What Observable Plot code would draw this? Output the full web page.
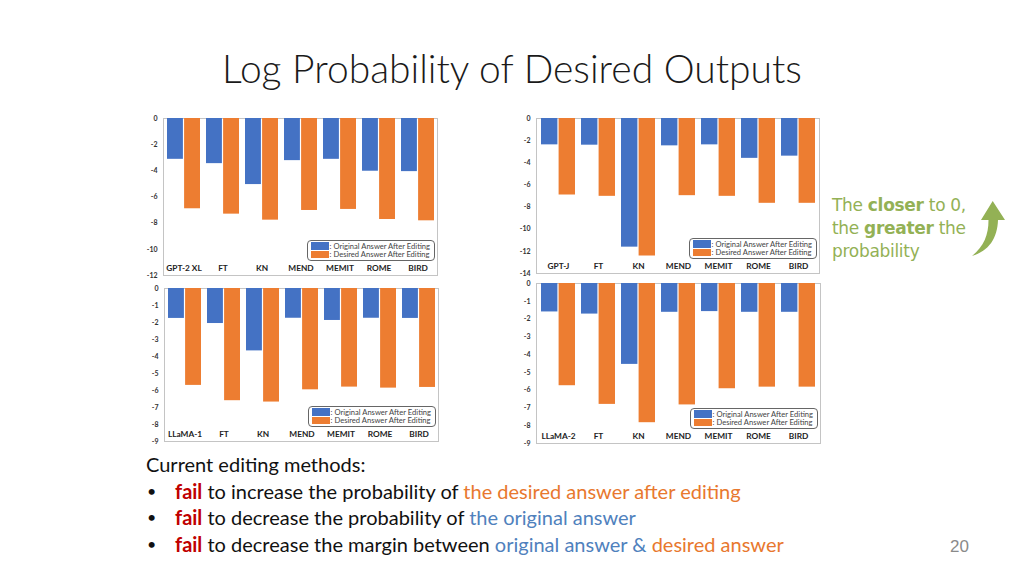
<!DOCTYPE html>
<html>
<head>
<meta charset="utf-8">
<script src="https://cdn.jsdelivr.net/npm/d3@7"></script>
<script src="https://cdn.jsdelivr.net/npm/@observablehq/plot@0.6"></script>
<style>
  html, body { margin: 0; padding: 0; background: #fff; }
  #slide { position: relative; width: 1024px; height: 576px; overflow: hidden; background: #fff; font-family: Lato, "Open Sans", sans-serif; }
  .panel { position: absolute; }
  .legend { position: absolute; border: 1px solid #666; border-radius: 4px; background: #fff; padding: 1px 4px 1px 3px; font-family: Lato, sans-serif; font-size: 7.6px; color: #444; line-height: 8.6px; white-space: nowrap; }
  .legend .row { display: flex; align-items: center; }
  .legend .sw { display: inline-block; width: 18px; height: 7.4px; margin-right: 1px; }
  #title { position: absolute; left: 0; width: 1024px; top: 45px; text-align: center; font-family: Lato, sans-serif; font-weight: 300; font-size: 39px; color: #1a1a1a; }
  #body { position: absolute; left: 146px; top: 451px; font-family: Lato, sans-serif; font-size: 20px; color: #111; line-height: 26.7px; }
  #body .b { display: flex; }
  #body .dot { width: 28px; padding-left: 1px; font-size: 16px; }
  .fail { color: #C00000; font-weight: bold; }
  .or { color: #E8782E; }
  .bl { color: #4F81BD; }
  #note { position: absolute; left: 832px; top: 194px; font-family: "DejaVu Sans", sans-serif; font-size: 17px; line-height: 23px; color: #93B155; letter-spacing: -0.3px; }
  #page { position: absolute; left: 950px; top: 537px; font-family: "Liberation Sans", sans-serif; font-size: 17px; color: #8a8a8a; }
</style>
</head>
<body>
<div id="slide">
  <div id="title">Log Probability of Desired Outputs</div>
  <div id="note">The <b>closer</b> to 0,<br>the <b>greater</b> the<br>probability</div>
  <svg style="position:absolute;left:0;top:0" width="1024" height="576">
    <path d="M 992.7 201 L 1005 220 L 998 220 C 997.5 238 989 251 972 256 C 984 246 988.5 235 988.5 220 L 981 220 Z" fill="#93B155"/>
  </svg>
  <div id="body">
    <div>Current editing methods:</div>
    <div class="b"><span class="dot">•</span><span><span class="fail">fail</span> to increase the probability of <span class="or">the desired answer after editing</span></span></div>
    <div class="b"><span class="dot">•</span><span><span class="fail">fail</span> to decrease the probability of <span class="bl">the original answer</span></span></div>
    <div class="b"><span class="dot">•</span><span><span class="fail">fail</span> to decrease the margin between <span class="bl">original answer</span> <span class="bl">&amp;</span> <span class="or">desired answer</span></span></div>
  </div>
  <div id="page">20</div>
</div>
<script>
// ---- Data ----
const methodsGPT2 = ["GPT-2 XL", "FT", "KN", "MEND", "MEMIT", "ROME", "BIRD"];
const gpt2Original = [-3.12, -3.45, -5.05, -3.22, -3.12, -4.03, -4.06];
const gpt2Desired  = [-6.9, -7.31, -7.77, -7.03, -6.95, -7.72, -7.82];
const gpt2Ticks = [0, -2, -4, -6, -8, -10, -12];

const methodsGPTJ = ["GPT-J", "FT", "KN", "MEND", "MEMIT", "ROME", "BIRD"];
const gptjOriginal = [-2.38, -2.41, -11.62, -2.47, -2.38, -3.6, -3.4];
const gptjDesired  = [-6.91, -7.03, -12.42, -6.97, -7.03, -7.66, -7.66];
const gptjTicks = [0, -2, -4, -6, -8, -10, -12, -14];

const methodsLLaMA1 = ["LLaMA-1", "FT", "KN", "MEND", "MEMIT", "ROME", "BIRD"];
const llama1Original = [-1.76, -2.06, -3.67, -1.75, -1.88, -1.75, -1.76];
const llama1Desired  = [-5.7, -6.6, -6.68, -5.96, -5.8, -5.86, -5.82];

const methodsLLaMA2 = ["LLaMA-2", "FT", "KN", "MEND", "MEMIT", "ROME", "BIRD"];
const llama2Original = [-1.6, -1.72, -4.55, -1.62, -1.58, -1.62, -1.62];
const llama2Desired  = [-5.75, -6.8, -7.83, -6.83, -5.92, -5.83, -5.83];
const llamaTicks = [0, -1, -2, -3, -4, -5, -6, -7, -8, -9];

const seriesNames = [": Original Answer After Editing", ": Desired Answer After Editing"];
const seriesColors = ["#4472C4", "#ED7D31"];

const panels = [
  {methods: methodsGPT2, orig: gpt2Original, des: gpt2Desired, ticks: gpt2Ticks, left: 139, top: 110, pw: 274, ph: 157},
  {methods: methodsGPTJ, orig: gptjOriginal, des: gptjDesired, ticks: gptjTicks, left: 512, top: 110, pw: 283, ph: 155},
  {methods: methodsLLaMA1, orig: llama1Original, des: llama1Desired, ticks: llamaTicks, left: 140, top: 280, pw: 274, ph: 153},
  {methods: methodsLLaMA2, orig: llama2Original, des: llama2Desired, ticks: llamaTicks, left: 512, top: 275, pw: 284, ph: 160}
];

const slide = document.getElementById("slide");
const mL = 24, mT = 8, mR = 3, mB = 6;

for (const p of panels) {
  const rowsO = p.methods.map((m, i) => ({m, v: p.orig[i]}));
  const rowsD = p.methods.map((m, i) => ({m, v: p.des[i]}));
  const base = {
    width: mL + p.pw + mR,
    height: mT + p.ph + mB,
    marginLeft: mL, marginTop: mT, marginRight: mR, marginBottom: mB,
    x: {type: "band", domain: p.methods, paddingInner: 0.16, paddingOuter: 0.08, label: null},
    y: {domain: [d3.min(p.ticks), 0], label: null},
    style: {background: "transparent", overflow: "visible"}
  };
  const probe = Plot.plot({...base, marks: [Plot.frame()]});
  const half = probe.scale("x").bandwidth / 2;
  const chart = Plot.plot({
    ...base,
    marks: [
      Plot.frame({stroke: "#c4c4c4", strokeWidth: 1}),
      Plot.barY(rowsO, {x: "m", y: "v", fill: seriesColors[0], insetRight: half + 0.6}),
      Plot.barY(rowsD, {x: "m", y: "v", fill: seriesColors[1], insetLeft: half + 0.6}),
      Plot.axisY({ticks: p.ticks, label: null, tickSize: 0, tickPadding: 6, tickFormat: d => String(d),
        fontSize: 7, fontWeight: "bold", fill: "#333", fontFamily: "Lato, sans-serif"}),
      Plot.axisX({label: null, tickSize: 0, tickPadding: 0, dy: -10.5, fontSize: 8.3, fontWeight: "bold",
        fill: "#222", fontFamily: "Lato, sans-serif"})
    ]
  });
  const div = document.createElement("div");
  div.className = "panel";
  div.style.left = p.left + "px";
  div.style.top = p.top + "px";
  div.appendChild(chart);
  const lg = document.createElement("div");
  lg.className = "legend";
  lg.style.right = (mR + 2) + "px";
  lg.style.bottom = (mB + 14) + "px";
  seriesNames.forEach((name, i) => {
    const r = document.createElement("div");
    r.className = "row";
    r.innerHTML = `<span class="sw" style="background:${seriesColors[i]}"></span><span>${name}</span>`;
    lg.appendChild(r);
  });
  div.appendChild(lg);
  slide.appendChild(div);
}
</script>
</body>
</html>
